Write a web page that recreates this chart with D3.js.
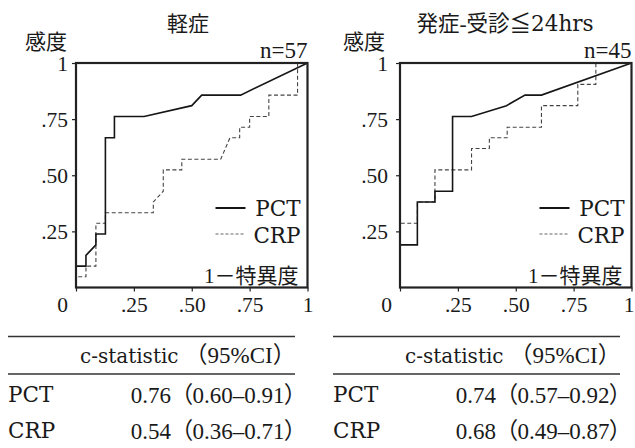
<!DOCTYPE html>
<html>
<head>
<meta charset="utf-8">
<script src="https://cdn.jsdelivr.net/npm/d3@7"></script>
<style>
  html, body { margin: 0; padding: 0; background: #fff; }
  svg { display: block; }
  text { font-family: "Liberation Serif", "Times New Roman", "Noto Sans CJK JP", serif; fill: #1a1a1a; }
  .wide { font-family: "DejaVu Serif", "Liberation Serif", "Noto Sans CJK JP", serif; }
  .palt { font-feature-settings: "palt" 1; }
</style>
</head>
<body>
<svg id="chart" width="635" height="448"></svg>
<script>
// ---- data ----
const titles = ["軽症", "発症-受診≦24hrs"];
const nLabels = ["n=57", "n=45"];
const seriesNames = ["PCT", "CRP"];
const yAxisLabel = "感度";
const xAxisLabel = "1－特異度";
const xTicks = [0, 0.25, 0.5, 0.75, 1];
const xTickLabels = ["0", ".25", ".50", ".75", "1"];
const yTicks = [0.25, 0.5, 0.75, 1];
const yTickLabels = [".25", ".50", ".75", "1"];

// ROC curves: [1-specificity, sensitivity]
const mildPCT = [[0,0],[0,0.095],[0.043,0.095],[0.043,0.143],[0.086,0.19],[0.086,0.238],[0.127,0.238],[0.127,0.667],[0.166,0.667],[0.166,0.762],[0.294,0.762],[0.5,0.81],[0.543,0.857],[0.711,0.857],[1,1]];
const mildCRP = [[0,0],[0,0.048],[0.043,0.048],[0.043,0.095],[0.086,0.095],[0.086,0.286],[0.127,0.286],[0.127,0.333],[0.334,0.333],[0.334,0.381],[0.377,0.429],[0.377,0.524],[0.457,0.524],[0.457,0.571],[0.625,0.571],[0.645,0.619],[0.665,0.667],[0.707,0.667],[0.707,0.714],[0.75,0.714],[0.75,0.762],[0.833,0.762],[0.833,0.857],[0.957,0.857],[0.957,1],[1,1]];
const earlyPCT = [[0,0],[0,0.19],[0.075,0.19],[0.075,0.381],[0.151,0.381],[0.151,0.429],[0.227,0.429],[0.227,0.762],[0.309,0.762],[0.46,0.81],[0.54,0.857],[0.611,0.857],[1,1]];
const earlyCRP = [[0,0],[0,0.286],[0.075,0.286],[0.075,0.381],[0.151,0.381],[0.151,0.524],[0.309,0.524],[0.309,0.619],[0.386,0.619],[0.386,0.667],[0.463,0.667],[0.463,0.714],[0.611,0.714],[0.611,0.81],[0.768,0.81],[0.768,0.905],[0.846,0.905],[0.846,1],[1,1]];

const tableHeadName = "c-statistic";
const tableHeadCI = "（95%CI）";
const mildAUC = [0.76, 0.54], mildLo = [0.60, 0.36], mildHi = [0.91, 0.71];
const earlyAUC = [0.74, 0.68], earlyLo = [0.57, 0.49], earlyHi = [0.92, 0.87];

// ---- layout ----
const svg = d3.select("#chart");
svg.append("rect").attr("width", 635).attr("height", 448).attr("fill", "#fff");

const panels = [
  { left: 76, right: 307.5, title: titles[0], n: nLabels[0], curves: [mildPCT, mildCRP], titleX: 188,
    yLabX: 25, yTickDx: -8, tblLeft: 8, tblLineR: 295, valR: 296, hdrX: 80,
    auc: mildAUC, lo: mildLo, hi: mildHi },
  { left: 400, right: 631.5, title: titles[1], n: nLabels[1], curves: [earlyPCT, earlyCRP], titleX: 505,
    yLabX: 343, yTickDx: -12, tblLeft: 333, tblLineR: 620, valR: 621, hdrX: 405,
    auc: earlyAUC, lo: earlyLo, hi: earlyHi }
];
const plotTop = 63, plotBottom = 287.5;
const fmt = d3.format(".2f");

panels.forEach((p, i) => {
  const x = d3.scaleLinear().domain([0, 1]).range([p.left, p.right]);
  const y = d3.scaleLinear().domain([0, 1]).range([plotBottom, plotTop]);
  const g = svg.append("g");

  // title (split CJK part and Latin part so the Latin uses a wider serif)
  const m = p.title.match(/^(.*?)([0-9A-Za-z]*)$/);
  const tt = g.append("text").attr("x", p.titleX).attr("y", 31).attr("text-anchor", "middle")
    .style("font-size", i === 0 ? "21px" : "21.5px");
  tt.append("tspan").text(m[1]);
  if (m[2]) tt.append("tspan").attr("class", "wide").text(m[2]);
  // y axis label
  g.append("text").attr("x", p.yLabX).attr("y", 49).style("font-size", "21px").text(yAxisLabel);
  // n
  g.append("text").attr("x", p.right).attr("y", 57.5).attr("text-anchor", "end")
    .style("font-size", "23px").text(p.n);

  // y axis
  const ya = g.append("g").attr("transform", `translate(${p.left},0)`)
    .call(d3.axisLeft(y).tickValues(yTicks).tickSize(4)
      .tickFormat((d, k) => yTickLabels[k]));
  ya.select(".domain").remove();
  ya.selectAll("line").attr("stroke", "#222").attr("stroke-width", 1.2);
  ya.selectAll("text").attr("x", p.yTickDx).attr("dy", "0.35em")
    .style("font-size", "21.5px").attr("fill", "#1a1a1a");

  // x axis
  const xa = g.append("g").attr("transform", `translate(0,${plotBottom})`)
    .call(d3.axisBottom(x).tickValues(xTicks).tickSize(4)
      .tickFormat((d, k) => xTickLabels[k]));
  xa.select(".domain").remove();
  xa.selectAll("line").attr("stroke", "#222").attr("stroke-width", 1.2);
  xa.selectAll("text").attr("y", 17).attr("dy", "0.35em")
    .style("font-size", "21.5px").attr("fill", "#1a1a1a")
    .attr("dx", d => d === 0 ? -14 : (d === 1 && i === 1 ? -3 : 0));

  // curves
  const line = d3.line().x(d => x(d[0])).y(d => y(d[1]));
  g.append("path").datum(p.curves[1]).attr("d", line).attr("fill", "none")
    .attr("stroke", "#444").attr("stroke-width", 1.1).attr("stroke-dasharray", "4,2.5");
  g.append("path").datum(p.curves[0]).attr("d", line).attr("fill", "none")
    .attr("stroke", "#151515").attr("stroke-width", 1.6);

  // frame
  g.append("rect").attr("x", p.left).attr("y", plotTop).attr("width", p.right - p.left)
    .attr("height", plotBottom - plotTop).attr("fill", "none").attr("stroke", "#222").attr("stroke-width", 2.2);

  // legend
  const lx1 = p.right - 92, lx2 = p.right - 62;
  g.append("line").attr("x1", lx1).attr("x2", lx2).attr("y1", 208).attr("y2", 208)
    .attr("stroke", "#151515").attr("stroke-width", 2);
  g.append("text").attr("class", "wide").attr("x", p.right - 7).attr("y", 208).attr("dy", "0.35em")
    .attr("text-anchor", "end").style("font-size", "21.5px").text(seriesNames[0]);
  g.append("line").attr("x1", lx1).attr("x2", lx2).attr("y1", 234).attr("y2", 234)
    .attr("stroke", "#666").attr("stroke-width", 1.2).attr("stroke-dasharray", "3,2");
  g.append("text").attr("class", "wide").attr("x", p.right - 7).attr("y", 235).attr("dy", "0.35em")
    .attr("text-anchor", "end").style("font-size", "21.5px").text(seriesNames[1]);
  // x axis label
  g.append("text").attr("x", p.right - 9).attr("y", 283).attr("text-anchor", "end")
    .style("font-size", "21px").text(xAxisLabel);

  // table
  const t = svg.append("g");
  t.append("line").attr("x1", p.tblLeft).attr("x2", p.tblLineR).attr("y1", 336.5).attr("y2", 336.5)
    .attr("stroke", "#333").attr("stroke-width", 1.3);
  t.append("line").attr("x1", p.tblLeft).attr("x2", p.tblLineR).attr("y1", 374).attr("y2", 374)
    .attr("stroke", "#333").attr("stroke-width", 1.3);
  const hdr = t.append("text").attr("x", p.hdrX).attr("y", 357).attr("dy", "0.35em");
  hdr.append("tspan").attr("class", "wide").style("font-size", "20px").text(tableHeadName);
  hdr.append("tspan").attr("dx", 6).style("font-size", "23px").text(tableHeadCI);
  seriesNames.forEach((s, k) => {
    const ry = 394.5 + k * 36;
    t.append("text").attr("class", "wide").attr("x", p.tblLeft).attr("y", ry).attr("dy", "0.35em")
      .style("font-size", "21.5px").text(s);
    const v = t.append("text").attr("class", "palt").attr("x", p.valR).attr("y", ry).attr("dy", "0.35em")
      .attr("text-anchor", "end").style("font-size", "23px");
    v.append("tspan").text(fmt(p.auc[k]));
    v.append("tspan").attr("dx", 10).text(`（${fmt(p.lo[k])}–${fmt(p.hi[k])}）`);
  });
});
</script>
</body>
</html>
